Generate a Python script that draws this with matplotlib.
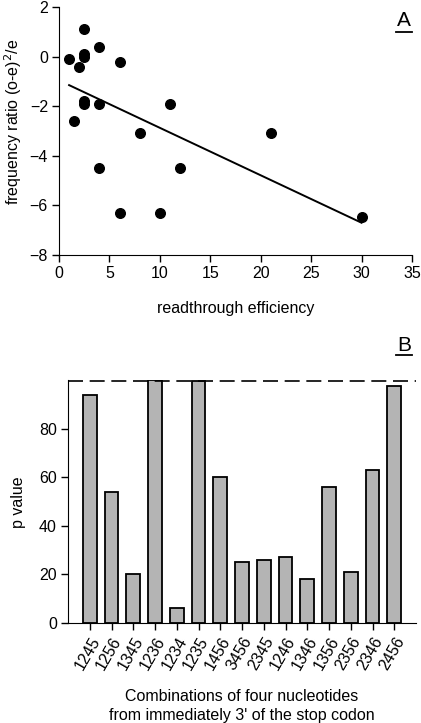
import matplotlib
matplotlib.use('Agg')
import matplotlib.pyplot as plt

plt.rcParams['font.family'] = ['Liberation Sans', 'DejaVu Sans']
plt.rcParams['font.size'] = 11.5

# panel A: readthrough efficiency vs frequency ratio
eff = [1, 1.5, 2, 2.5, 2.5, 2.5, 2.5, 2.5, 4, 4, 4, 6, 6, 8, 10, 11, 12, 21, 30]
ratio = [-0.1, -2.6, -0.4, 1.1, 0.1, 0.0, -1.8, -1.9, 0.4, -1.9, -4.5,
         -0.2, -6.3, -3.1, -6.3, -1.9, -4.5, -3.1, -6.45]
fit_x = [1, 30]
fit_y = [-1.15, -6.7]

# panel B: p values per combination
combos = ['1245', '1256', '1345', '1236', '1234', '1235', '1456', '3456',
          '2345', '1246', '1346', '1356', '2356', '2346', '2456']
pvals = [94, 54, 20, 100, 6, 99.5, 60, 25, 26, 27, 18, 56, 21, 63, 97.7]
cutoff = 99.5

W, H = 421, 723
fig = plt.figure(figsize=(W / 100, H / 100), dpi=100)

def box(l, t, r, b):
    return [l / W, 1 - b / H, (r - l) / W, (b - t) / H]

ax1 = fig.add_axes(box(59, 7, 412, 255))
ax1.scatter(eff, ratio, s=48, color='black', zorder=3)
ax1.plot(fit_x, fit_y, color='black', lw=1.4)
ax1.set_xlim(0, 35)
ax1.set_ylim(-8, 2)
ax1.set_xticks(range(0, 36, 5))
ax1.set_yticks(range(-8, 3, 2))
ax1.spines['top'].set_visible(False)
ax1.spines['right'].set_visible(False)
ax1.tick_params(direction='out', length=5, width=1, pad=3)
ax1.set_xlabel('readthrough efficiency', labelpad=14)
ax1.set_ylabel('frequency ratio (o-e)$^2$/e', va='center')
ax1.yaxis.set_label_coords(13 / W, 1 - 122 / H, transform=fig.transFigure)
fig.text(404 / W, 1 - 21 / H, 'A', fontsize=15, ha='center', va='center')
fig.add_artist(plt.Line2D([396 / W, 412 / W], [1 - 32 / H, 1 - 32 / H],
                          color='black', lw=1.3))

ax2 = fig.add_axes(box(68, 380, 416, 623))
x = range(len(combos))
ax2.bar(x, pvals, width=0.64, color='#b4b4b4', edgecolor='black', lw=1.3)
ax2.axhline(cutoff, color='black', lw=1.2, dashes=(9, 4))
ax2.set_xlim(-1, 15)
ax2.set_ylim(0, 100)
ax2.set_yticks(range(0, 81, 20))
ax2.set_xticks(list(x))
ax2.set_xticklabels(combos, rotation=60, ha='right', rotation_mode='anchor')
ax2.spines['top'].set_visible(False)
ax2.spines['right'].set_visible(False)
ax2.tick_params(direction='out', length=5, width=1, pad=3)
ax2.set_ylabel('p value', va='center')
ax2.yaxis.set_label_coords(19 / W, 1 - 502 / H, transform=fig.transFigure)
ax2.set_xlabel("Combinations of four nucleotides\nfrom immediately 3' of the stop codon",
               labelpad=12, linespacing=1.35)
fig.text(404 / W, 1 - 345 / H, 'B', fontsize=15, ha='center', va='center')
fig.add_artist(plt.Line2D([396 / W, 412 / W], [1 - 355 / H, 1 - 355 / H],
                          color='black', lw=1.3))

fig.savefig('out.png', dpi=100)
